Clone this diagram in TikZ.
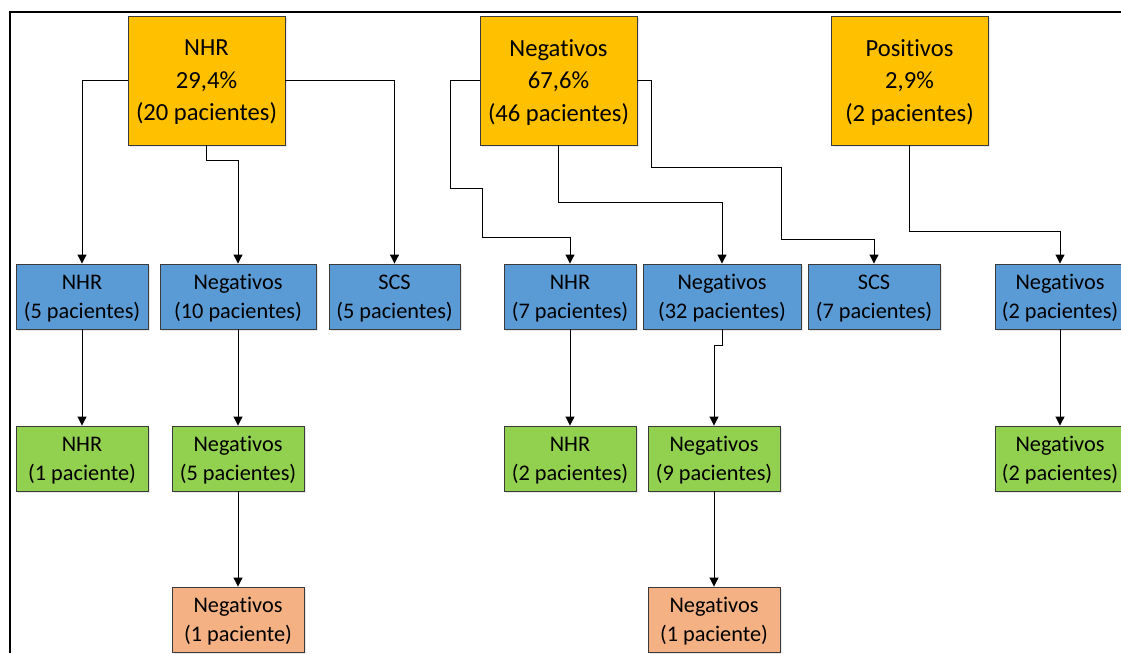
\documentclass[tikz,border=0pt]{standalone}
\usepackage{fontspec}
\setmainfont{Carlito}[Ligatures=NoCommon]
\usetikzlibrary{arrows.meta,shadows}

\definecolor{topfill}{HTML}{FFC000}
\definecolor{midfill}{HTML}{5B9BD5}
\definecolor{lowfill}{HTML}{92D050}
\definecolor{endfill}{HTML}{F4B183}
\definecolor{edgegray}{HTML}{3A3A3A}

\tikzset{
  box/.style={draw=edgegray, line width=0.9pt, inner sep=0pt, align=center,
    text depth=0pt,
    drop shadow={shadow xshift=1.5pt, shadow yshift=-1.5pt, opacity=0.18}},
  rootbox/.style={box, fill=topfill, minimum width=157pt, minimum height=129pt,
    font=\fontsize{24.6}{32.5}\selectfont},
  lvlone/.style={box, fill=midfill, minimum height=65pt,
    font=\fontsize{22.3}{29}\selectfont},
  lvltwo/.style={box, fill=lowfill, minimum width=132pt, minimum height=65pt,
    font=\fontsize{22.3}{29}\selectfont},
  lvlthree/.style={box, fill=endfill, minimum width=132pt, minimum height=65pt,
    font=\fontsize{22.3}{29}\selectfont},
  link/.style={draw=black, line width=1pt, -{Triangle[width=9pt,length=9pt]}}
}

\begin{document}
\begin{tikzpicture}[x=1pt, y=-1pt]
\useasboundingbox (0,0) rectangle (1121,653);

% outer frame (top and left edges)
\draw[line width=2.5pt] (10,653) -- (10,12) -- (1121,12);

% first row
\node[rootbox] (n1) at (206.5,80.5) {NHR\\29,4\%\\(20 pacientes)};
\node[rootbox] (n2) at (558.5,80.5) {Negativos\\67,6\%\\(46 pacientes)};
\node[rootbox] (n3) at (909.5,80.5) {Positivos\\2,9\%\\(2 pacientes)};

% second row
\node[lvlone, minimum width=132pt] (b1) at (82,296.5)   {NHR\\(5 pacientes)};
\node[lvlone, minimum width=156pt] (b2) at (238,296.5)  {Negativos\\(10 pacientes)};
\node[lvlone, minimum width=131pt] (b3) at (394.5,296.5){SCS\\(5 pacientes)};
\node[lvlone, minimum width=132pt] (b4) at (570,296.5)  {NHR\\(7 pacientes)};
\node[lvlone, minimum width=158pt] (b5) at (722,296.5)  {Negativos\\(32 pacientes)};
\node[lvlone, minimum width=132pt] (b6) at (874,296.5)  {SCS\\(7 pacientes)};
\node[lvlone, minimum width=130pt] (b7) at (1060,296.5) {Negativos\\(2 pacientes)};

% third row
\node[lvltwo] (g1) at (82,458.5)   {NHR\\(1 paciente)};
\node[lvltwo] (g2) at (238,458.5)  {Negativos\\(5 pacientes)};
\node[lvltwo] (g3) at (570,458.5)  {NHR\\(2 pacientes)};
\node[lvltwo] (g4) at (714,458.5)  {Negativos\\(9 pacientes)};
\node[lvltwo, minimum width=130pt] (g5) at (1060,458.5) {Negativos\\(2 pacientes)};

% fourth row
\node[lvlthree] (s1) at (238,619.5) {Negativos\\(1 paciente)};
\node[lvlthree] (s2) at (714,619.5) {Negativos\\(1 paciente)};

% connectors from the first row
\draw[link] (n1.west) -| (b1.north);
\draw[link] (n1.south) -- ++(0,15) -| (b2.north);
\draw[link] (n1.east) -| (b3.north);

\draw[link] (n2.west) -- ++(-29,0) -- ++(0,108) -- ++(32,0) -- ++(0,49) -| (b4.north);
\draw[link] (n2.south) -- ++(0,57) -| (b5.north);
\draw[link] (n2.east) -- ++(14,0) -- ++(0,87) -- ++(130,0) -- ++(0,72) -| (b6.north);

\draw[link] (n3.south) -- ++(0,86) -| (b7.north);

% connectors from the second row
\draw[link] (b1) -- (g1);
\draw[link] (b2) -- (g2);
\draw[link] (b4) -- (g3);
\draw[link] (b5.south) -- ++(0,16) -| (g4.north);
\draw[link] (b7) -- (g5);

% connectors from the third row
\draw[link] (g2) -- (s1);
\draw[link] (g4) -- (s2);
\end{tikzpicture}
\end{document}
